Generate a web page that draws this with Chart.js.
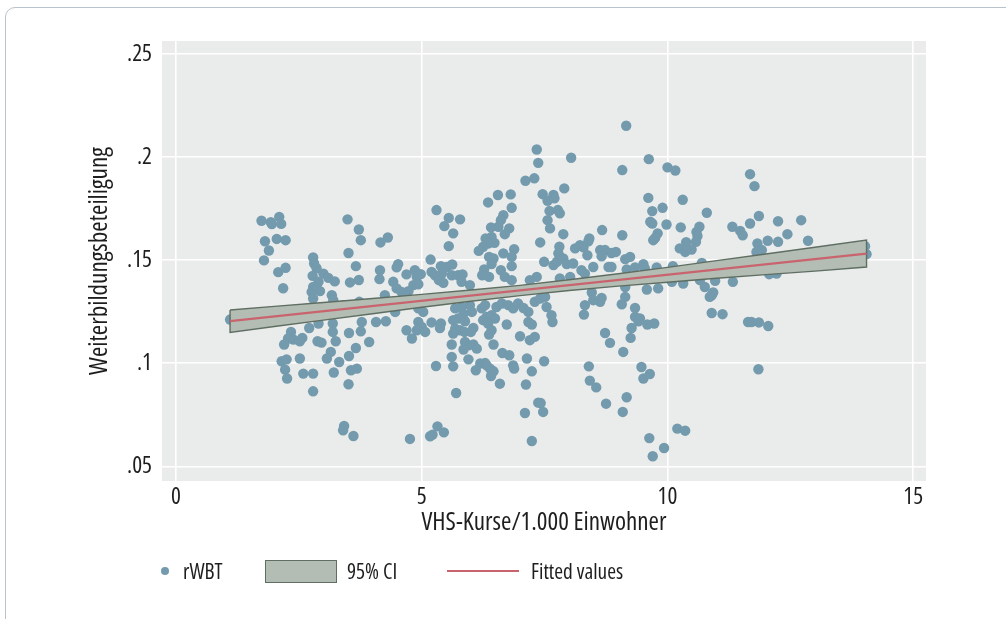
<!DOCTYPE html>
<html>
<head>
<meta charset="utf-8">
<script src="https://cdn.jsdelivr.net/npm/chart.js@4.4.1/dist/chart.umd.min.js"></script>
<style>
  body { margin: 0; background: #fff; }
  #wrap { position: relative; width: 1006px; height: 619px; overflow: hidden; color: #1e1e1e; }
  #card { position: absolute; left: 5px; top: 7px; width: 1020px; height: 680px;
          border: 1.5px solid #b9c3cc; border-radius: 10px; box-sizing: border-box; }
  #chart { position: absolute; left: 0; top: 0; }
  .lt { position: absolute; top: 560px; line-height: 22px; white-space: nowrap; }
  .lg { position: absolute; box-sizing: border-box; }
</style>
</head>
<body>
<div id="wrap">
  <div id="card"></div>
  <canvas id="chart" width="1006" height="619"></canvas>
  <div id="legend"></div>
</div>
<script>
// Achsen
const xTicks = [0, 5, 10, 15];
const yTicks = [0.05, 0.1, 0.15, 0.2, 0.25];

// rWBT: [VHS-Kurse je 1.000 Einwohner, Weiterbildungsbeteiligung]
const rWBT = [
  [1.74,.1691],[1.95,.1675],[1.93,.1684],[2.10,.1710],[2.14,.1676],[1.81,.1592],[2.05,.1603],[2.23,.1597],
  [1.89,.1547],[1.79,.1499],[2.08,.1442],[2.23,.1463],[2.18,.1364],[2.79,.1513],[2.81,.1484],[2.86,.1461],
  [2.78,.1424],[3.00,.1435],[3.10,.1414],[3.23,.1397],[2.90,.1395],[2.79,.1370],[3.49,.1698],[3.72,.1649],
  [3.76,.1597],[3.51,.1535],[3.66,.1471],[3.72,.1404],[3.54,.1392],
  [1.10,.1212],[2.76,.1346],[2.86,.1363],[2.93,.1350],[2.79,.1314],[3.17,.1330],[3.20,.1306],[3.40,.1282],
  [3.73,.1298],[3.78,.1200],[3.76,.1155],[3.52,.1147],[3.19,.1193],[3.19,.1152],[3.25,.1107],[2.71,.1171],
  [2.90,.1193],[2.34,.1152],[2.28,.1120],[2.39,.1115],[2.57,.1123],[2.52,.1107],[2.20,.1091],[2.88,.1107],
  [2.96,.1100],[3.15,.1055],[3.07,.1023],[3.32,.1006],[3.52,.1035],[3.66,.1074],[3.93,.1103],[2.15,.1010],
  [2.25,.1019],[2.52,.1023],[2.22,.0969],[2.26,.0926],[2.59,.0950],[2.79,.0950],[3.21,.0955],[3.56,.0966],
  [3.68,.0974],[3.51,.0898],[2.79,.0864],[3.42,.0696],[3.40,.0675],[3.61,.0647],
  [7.34,.2037],[7.37,.1972],[7.11,.1885],[7.29,.1897],[7.90,.1848],[7.46,.1820],[7.68,.1816],[7.70,.1800],
  [7.56,.1788],[7.60,.1739],[7.77,.1743],[7.81,.1727],[7.56,.1694],[7.61,.1654],[7.88,.1626],[7.41,.1586],
  [7.80,.1565],[7.81,.1516],[7.78,.1533],[7.68,.1476],[7.75,.1492],[7.49,.1492],[7.81,.1411],[7.34,.1419],
  [7.20,.1403],[6.55,.1816],[6.81,.1819],[6.35,.1780],[6.83,.1754],[6.66,.1718],[6.61,.1694],[6.56,.1662],
  [6.41,.1659],[6.78,.1654],[6.69,.1626],[6.42,.1613],[6.30,.1605],[6.48,.1584],[6.35,.1581],[6.25,.1565],
  [6.16,.1545],[6.88,.1553],[6.83,.1516],[6.66,.1533],[6.37,.1516],[6.46,.1508],[6.42,.1481],[6.27,.1455],
  [6.23,.1427],[6.37,.1419],[6.83,.1471],[6.61,.1451],[6.69,.1419],[6.83,.1403],[5.30,.1743],[5.55,.1705],
  [5.78,.1698],[5.46,.1665],[5.64,.1630],[5.55,.1568],[5.18,.1503],[4.16,.1586],[4.31,.1610],[4.15,.1451],
  [4.14,.1408],[4.52,.1481],[4.49,.1465],[4.42,.1395],[4.69,.1431],[4.86,.1451],[4.98,.1432],[4.90,.1419],
  [4.83,.1379],[4.93,.1383],[5.20,.1443],[5.27,.1427],[5.39,.1471],[5.51,.1467],[5.62,.1479],[5.41,.1435],
  [5.35,.1403],[5.44,.1390],[5.61,.1427],[5.74,.1427],[5.83,.1431],[5.81,.1395],[5.98,.1379],
  [4.07,.1200],[4.27,.1204],[4.25,.1330],[4.46,.1249],[4.69,.1160],[4.80,.1120],[4.93,.1200],[5.00,.1176],
  [4.90,.1160],[5.07,.1152],[5.20,.1198],[5.39,.1193],[5.37,.1171],[5.29,.0987],[5.70,.0856],[4.76,.0633],
  [5.17,.0646],[5.22,.0654],[5.32,.0694],[5.45,.0665],[4.49,.1363],[4.59,.1346],[4.73,.1350],[4.86,.1290],
  [4.93,.1266],[5.03,.1249],[5.68,.1266],[5.81,.1273],[5.98,.1282],[5.85,.1241],[6.02,.1249],[5.64,.1209],
  [5.74,.1217],[5.88,.1204],[5.68,.1168],[5.78,.1160],[5.87,.1152],[5.64,.1144],[6.05,.1171],[6.00,.1152],
  [6.22,.1266],[6.29,.1282],[6.25,.1209],[6.32,.1225],[6.42,.1233],[6.49,.1217],[6.35,.1193],[6.42,.1160],
  [6.37,.1139],[5.61,.1091],[5.88,.1103],[5.95,.1087],[5.85,.1067],[6.05,.1091],[6.12,.1071],[6.46,.1091],
  [5.61,.1031],[5.64,.0985],[5.95,.1019],[6.10,.0966],[6.19,.0999],[6.29,.1001],[6.32,.0990],[6.39,.0974],
  [6.46,.0961],[6.41,.0938],[6.59,.0901],[6.64,.1050],[6.78,.1039],[6.73,.1188],[6.52,.1273],[6.63,.1290],
  [6.76,.1282],[6.86,.1266],[6.96,.1290],[7.07,.1268],[7.17,.1249],[7.30,.1298],[7.41,.1314],[7.51,.1322],
  [7.54,.1273],[7.64,.1233],[7.66,.1200],[7.17,.1200],[7.24,.1188],[7.00,.1131],[7.20,.1112],[7.30,.1128],
  [7.14,.1023],[7.49,.1010],[6.86,.0990],[6.88,.0974],[7.24,.0961],[7.12,.0897],[7.37,.0809],[7.42,.0807],
  [7.10,.0759],[7.47,.0764],[7.24,.0623],
  [9.16,.2152],[8.04,.1997],[9.62,.1990],[9.08,.1937],[10.00,.1950],[10.16,.1935],[11.68,.1917],[11.77,.1859],
  [9.61,.1802],[10.31,.1793],[9.69,.1738],[9.90,.1754],[10.80,.1730],[9.65,.1686],[9.69,.1678],[9.98,.1673],
  [10.27,.1659],[10.65,.1662],[10.59,.1637],[10.61,.1617],[10.58,.1589],[11.32,.1662],[11.48,.1642],[11.53,.1621],
  [11.68,.1678],[11.86,.1714],[8.67,.1646],[8.41,.1605],[8.39,.1592],[9.08,.1621],[9.80,.1630],[9.75,.1608],
  [9.71,.1597],[10.38,.1587],[10.25,.1557],[10.36,.1540],[10.49,.1552],[8.12,.1557],[8.22,.1573],[8.29,.1562],
  [7.88,.1508],[8.37,.1524],[8.63,.1549],[8.73,.1549],[8.86,.1535],[8.95,.1540],[8.66,.1519],[9.14,.1505],
  [9.24,.1516],[7.95,.1481],[8.08,.1484],[8.49,.1467],[8.80,.1467],[8.86,.1467],[8.25,.1451],[8.32,.1435],
  [9.17,.1455],[9.34,.1465],[9.51,.1481],[9.54,.1460],[9.78,.1465],[10.11,.1471],[10.70,.1487],[11.83,.1581],
  [8.02,.1419],[9.14,.1370],[9.58,.1358],[9.81,.1363],[10.09,.1395],[10.32,.1387],[10.66,.1403],[10.76,.1370],
  [10.97,.1400],[11.33,.1395],
  [8.46,.1343],[8.66,.1317],[8.63,.1298],[8.49,.1306],[8.32,.1282],[8.30,.1236],[9.14,.1322],[9.07,.1286],
  [9.34,.1268],[9.34,.1225],[9.44,.1217],[9.41,.1204],[9.59,.1188],[9.73,.1193],[9.27,.1171],[9.25,.1123],
  [8.73,.1147],[8.83,.1099],[9.10,.1055],[8.40,.0985],[8.42,.0916],[8.55,.0883],[9.47,.0982],[9.51,.0926],
  [9.64,.0948],[9.17,.0835],[8.75,.0804],[9.09,.0764],[9.63,.0637],[9.93,.0589],[9.70,.0549],[10.20,.0683],
  [10.36,.0673],[10.90,.1244],[11.12,.1238],[10.90,.1330],[10.93,.1343],[10.86,.1322],[11.64,.1200],[11.71,.1200],
  [11.86,.1198],[11.85,.0971],
  [12.25,.1689],[12.72,.1694],[12.44,.1626],[12.04,.1594],[12.25,.1589],[12.86,.1594],[11.92,.1549],[11.81,.1540],
  [14.02,.1568],[14.05,.1529],[12.07,.1432],[12.22,.1435],[12.05,.1181]
];

// 95% CI (oberer und unterer Rand)
const ciX     = [1.10, 2, 3, 4, 5, 6, 7, 8, 9, 10, 11, 12, 13, 14.05];
const ciUpper = [.1258, .1276, .1295, .1314, .1334, .1355, .1378, .1405, .1434, .1465, .1498, .1530, .1563, .1597];
const ciLower = [.1150, .1178, .1209, .1240, .1272, .1301, .1328, .1353, .1374, .1393, .1412, .1430, .1447, .1467];

// Fitted values
const fitX = [1.10, 14.05];
const fitY = [.1204, .1532];

const textFarbe = '#1e1e1e';

// schmale Schrift: Open Sans condensed, sonst Roboto Condensed
function breite(font, text) {
  const c = document.createElement('canvas').getContext('2d');
  c.font = font;
  return c.measureText(text).width;
}
const probe = 'VHS-Kurse/1.000 Einwohner';
let familie = "'Open Sans'";
let gewicht = '400 condensed';
let stretch = '75%';
if (breite("400 condensed 100px 'Open Sans'", probe) > 0.9 * breite("400 100px 'Open Sans'", probe)) {
  familie = "'Roboto Condensed'";
  gewicht = '400';
  stretch = 'normal';
}
function groesse(text, ziel) {
  return Math.round(1000 * ziel / breite(gewicht + ' 100px ' + familie, text)) / 10;
}
const titelGroesse = groesse(probe, 245);
const tickGroesse = groesse('.25', 25);
const legGroesse = groesse('Fitted values', 92);

function paare(xs, ys) {
  return xs.map(function (x, i) { return { x: x, y: ys[i] }; });
}

const ciRand = paare(ciX, ciUpper).concat(paare(ciX, ciLower).reverse());
ciRand.push(ciRand[0]);

const plotHintergrund = {
  id: 'plotHintergrund',
  beforeDraw(chart) {
    const a = chart.chartArea;
    const ctx = chart.ctx;
    ctx.save();
    ctx.fillStyle = '#eaeceb';
    ctx.fillRect(a.left, a.top, a.right - a.left, a.bottom - a.top);
    ctx.restore();
  }
};

const chart = new Chart(document.getElementById('chart'), {
  type: 'scatter',
  data: {
    datasets: [
      { // 0 Fitted values (oben)
        type: 'line', label: 'Fitted values', data: paare(fitX, fitY),
        borderColor: '#c9646e', borderWidth: 2.2, pointRadius: 0, fill: false
      },
      { // 1 CI-Umriss
        type: 'line', label: '95% CI', data: ciRand,
        borderColor: '#5f6e62', borderWidth: 1.4, pointRadius: 0, fill: false
      },
      { // 2 CI oben, gefuellt bis unten
        type: 'line', label: 'ci_o', data: paare(ciX, ciUpper),
        borderWidth: 0, pointRadius: 0, backgroundColor: '#b3bdb4', fill: '+1'
      },
      { // 3 CI unten
        type: 'line', label: 'ci_u', data: paare(ciX, ciLower),
        borderWidth: 0, pointRadius: 0, fill: false
      },
      { // 4 Punkte
        label: 'rWBT',
        data: rWBT.map(function (p) { return { x: p[0], y: p[1] }; }),
        backgroundColor: '#739aad', borderWidth: 0, pointRadius: 5.2
      }
    ]
  },
  options: {
    responsive: false,
    animation: false,
    devicePixelRatio: 1,
    events: [],
    layout: { padding: { left: 0, top: 41, right: 80, bottom: 0 } },
    plugins: { legend: { display: false }, tooltip: { enabled: false } },
    scales: {
      x: {
        type: 'linear', min: -0.285, max: 15.26,
        afterBuildTicks: function (s) { s.ticks = xTicks.map(function (v) { return { value: v }; }); },
        afterFit: function (s) { s.height = 138; },
        grid: { color: '#ffffff', lineWidth: 1.6, drawTicks: false },
        border: { display: false },
        ticks: { color: textFarbe, padding: 2, font: { family: familie, weight: gewicht, size: tickGroesse } },
        title: {
          display: true, text: 'VHS-Kurse/1.000 Einwohner', color: textFarbe,
          font: { family: familie, weight: gewicht, size: titelGroesse },
          padding: { top: 0, bottom: 96 - titelGroesse * 0.6 }
        }
      },
      y: {
        type: 'linear', min: 0.0429, max: 0.2563,
        afterBuildTicks: function (s) { s.ticks = yTicks.map(function (v) { return { value: v }; }); },
        afterFit: function (s) { s.width = 162; },
        grid: { color: '#ffffff', lineWidth: 1.6, drawTicks: false },
        border: { display: false },
        ticks: {
          color: textFarbe, padding: 10, font: { family: familie, weight: gewicht, size: tickGroesse },
          callback: function (v) { return String(v).replace(/^0\./, '.'); }
        },
        title: {
          display: true, text: 'Weiterbildungsbeteiligung', color: textFarbe,
          font: { family: familie, weight: gewicht, size: titelGroesse },
          padding: { top: 100 - titelGroesse * 0.6, bottom: 0 }
        }
      }
    }
  },
  plugins: [plotHintergrund]
});

// Legende unter dem Plot, Farben aus den Datensaetzen
function baueLegende(chart) {
  const ds = chart.data.datasets;
  const leg = document.getElementById('legend');
  const txt = 'font-family:' + familie + ';font-stretch:' + stretch + ';font-size:' + legGroesse + 'px;';
  let html = '';
  html += '<div class="lg" style="left:161px;top:567px;width:8px;height:8px;border-radius:50%;background:' + ds[4].backgroundColor + '"></div>';
  html += '<div class="lt" style="left:183px;' + txt + '">' + ds[4].label + '</div>';
  html += '<div class="lg" style="left:265px;top:560px;width:72px;height:23px;background:' + ds[2].backgroundColor +
          ';border:1.4px solid ' + ds[1].borderColor + '"></div>';
  html += '<div class="lt" style="left:347px;' + txt + '">' + ds[1].label + '</div>';
  html += '<div class="lg" style="left:447px;top:570px;width:72px;height:2.2px;background:' + ds[0].borderColor + '"></div>';
  html += '<div class="lt" style="left:531px;' + txt + '">' + ds[0].label + '</div>';
  leg.innerHTML = html;
}
baueLegende(chart);
</script>
</body>
</html>
